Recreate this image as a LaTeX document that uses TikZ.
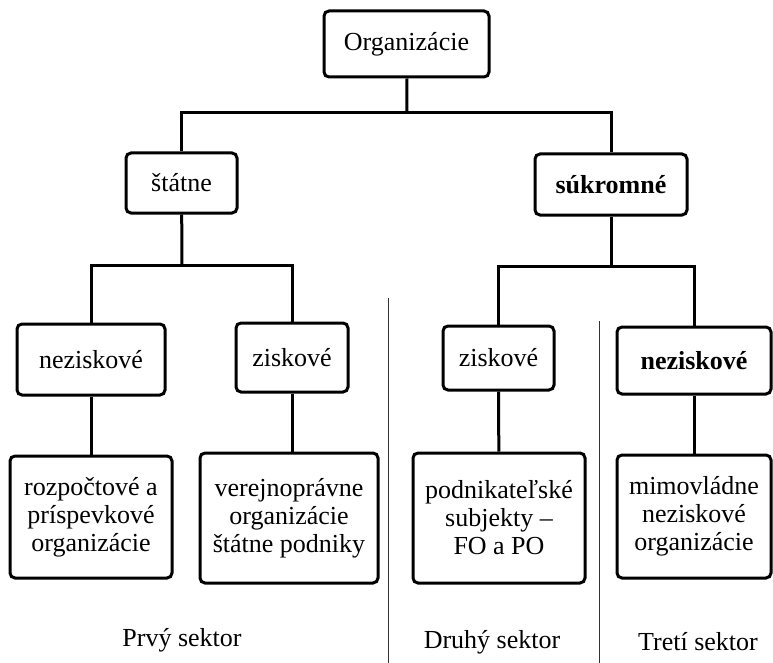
\documentclass[tikz,border=0pt]{standalone}
\usepackage{fontspec}
\setmainfont{Liberation Serif}
\usepackage{tikz}

\tikzset{
  box/.style={draw,line width=3pt,rounded corners=5pt,align=center,inner sep=0pt,
    font=\fontsize{26}{28}\selectfont},
  conn/.style={line width=3pt},
  sep/.style={line width=1pt,black!80},
  sektor/.style={font=\fontsize{26}{28}\selectfont}
}

\begin{document}
\begin{tikzpicture}[x=1pt,y=-1pt]
\useasboundingbox (0,0) rectangle (773,663);
\node at (406.5,44)[box,minimum width=165pt,minimum height=66pt] (org) {Organizácie};
\node at (181.5,183)[box,minimum width=111pt,minimum height=60pt] (st) {štátne};
\node at (611,184.5)[box,minimum width=152pt,minimum height=61pt] (su) {\textbf{súkromné}};
\node at (91,359.5)[box,minimum width=148pt,minimum height=71pt] (stn) {neziskové};
\node at (292,357.5)[box,minimum width=112pt,minimum height=69pt] (stz) {ziskové};
\node at (498.5,358)[box,minimum width=111pt,minimum height=64pt] (suz) {ziskové};
\node at (694,360.5)[box,minimum width=154pt,minimum height=67pt] (sun) {\textbf{neziskové}};
\node at (91,517)[box,minimum width=162pt,minimum height=122pt] (rozp) {rozpočtové a\\príspevkové\\organizácie};
\node at (289,518)[box,minimum width=178pt,minimum height=130pt] (verej) {verejnoprávne\\organizácie\\štátne podniky};
\node at (499,518)[box,minimum width=172pt,minimum height=130pt] (podn) {podnikateľské\\subjekty –\\FO a PO};
\node at (694,516.5)[box,minimum width=154pt,minimum height=123pt] (mimo) {mimovládne\\neziskové\\organizácie};
\node at (182,640)[sektor] (prvy) {Prvý sektor};
\node at (492,642)[sektor] (druhy) {Druhý sektor};
\node at (698,642)[sektor] (treti) {Tretí sektor};
\coordinate (j0) at (407,113);
\coordinate (j1) at (182,265);
\coordinate (j2) at (611,266);
\draw[conn] (org) -- (j0);
\draw[conn] (st.north) |- (j0) -| (su.north);
\draw[conn] (st) -- (j1);
\draw[conn] (stn.north) |- (j1) -| (stz.north);
\draw[conn] (su) -- (j2);
\draw[conn] (suz.north) |- (j2) -| (sun.north);
\draw[conn] (stn) -- (rozp);
\draw[conn] (stz.south) -- (stz.south |- verej.north);
\draw[conn] (suz) -- (podn);
\draw[conn] (sun) -- (mimo);
\draw[sep] (388,298) -- (388,663);
\draw[sep] (599,321) -- (599,663);
\end{tikzpicture}
\end{document}
